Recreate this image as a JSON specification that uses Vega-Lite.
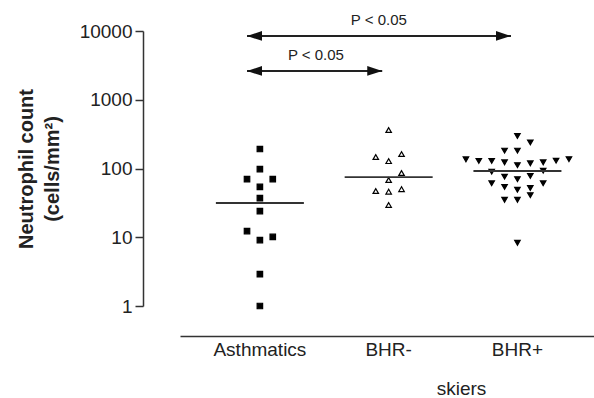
{
  "$schema": "https://vega.github.io/schema/vega-lite/v6.json",
  "width": 414,
  "height": 275,
  "autosize": {"type": "none"},
  "padding": {"left": 180, "top": 31, "right": 0, "bottom": 92},
  "background": "white",
  "config": {"view": {"stroke": null}, "font": "Liberation Sans"},
  "datasets": {
    "points": [
      {"group": "Asthmatics", "value": 192, "slot": 0},
      {"group": "Asthmatics", "value": 98, "slot": 0},
      {"group": "Asthmatics", "value": 70, "slot": -1},
      {"group": "Asthmatics", "value": 70, "slot": 1},
      {"group": "Asthmatics", "value": 54, "slot": 0},
      {"group": "Asthmatics", "value": 37, "slot": 0},
      {"group": "Asthmatics", "value": 24, "slot": 0},
      {"group": "Asthmatics", "value": 12.3, "slot": -1},
      {"group": "Asthmatics", "value": 10.1, "slot": 1},
      {"group": "Asthmatics", "value": 9.1, "slot": 0},
      {"group": "Asthmatics", "value": 2.9, "slot": 0},
      {"group": "Asthmatics", "value": 1, "slot": 0},
      {"group": "BHR-", "value": 363, "slot": 0},
      {"group": "BHR-", "value": 147, "slot": -1},
      {"group": "BHR-", "value": 162, "slot": 1},
      {"group": "BHR-", "value": 128, "slot": 0},
      {"group": "BHR-", "value": 86, "slot": 1},
      {"group": "BHR-", "value": 68, "slot": 0},
      {"group": "BHR-", "value": 47, "slot": -1},
      {"group": "BHR-", "value": 46, "slot": 0},
      {"group": "BHR-", "value": 50, "slot": 1},
      {"group": "BHR-", "value": 29.5, "slot": 0},
      {"group": "BHR+", "value": 297, "slot": 0},
      {"group": "BHR+", "value": 240, "slot": 1},
      {"group": "BHR+", "value": 182, "slot": -1},
      {"group": "BHR+", "value": 182, "slot": 0},
      {"group": "BHR+", "value": 136, "slot": -4},
      {"group": "BHR+", "value": 129, "slot": -3},
      {"group": "BHR+", "value": 129, "slot": -2},
      {"group": "BHR+", "value": 123, "slot": -1},
      {"group": "BHR+", "value": 112, "slot": 0},
      {"group": "BHR+", "value": 119, "slot": 1},
      {"group": "BHR+", "value": 123, "slot": 2},
      {"group": "BHR+", "value": 130, "slot": 3},
      {"group": "BHR+", "value": 137, "slot": 4},
      {"group": "BHR+", "value": 90, "slot": -2},
      {"group": "BHR+", "value": 93, "slot": 2},
      {"group": "BHR+", "value": 76, "slot": -1},
      {"group": "BHR+", "value": 70, "slot": 0},
      {"group": "BHR+", "value": 78, "slot": 1},
      {"group": "BHR+", "value": 61, "slot": -2},
      {"group": "BHR+", "value": 61, "slot": 2},
      {"group": "BHR+", "value": 54, "slot": -1},
      {"group": "BHR+", "value": 49, "slot": 0},
      {"group": "BHR+", "value": 52, "slot": 1},
      {"group": "BHR+", "value": 41, "slot": 1},
      {"group": "BHR+", "value": 35, "slot": -1},
      {"group": "BHR+", "value": 35, "slot": 0},
      {"group": "BHR+", "value": 8.3, "slot": 0}
    ],
    "means": [
      {"group": "Asthmatics", "value": 31.5},
      {"group": "BHR-", "value": 75},
      {"group": "BHR+", "value": 92}
    ],
    "arrows": [
      {"from": "Asthmatics", "to": "BHR+", "value": 8460, "label": "P < 0.05", "labelAt": "BHR-", "pos": "top"},
      {"from": "Asthmatics", "to": "BHR-", "value": 2620, "label": "P < 0.05", "labelAt": "Asthmatics", "pos": "low"}
    ]
  },
  "layer": [
    {
      "data": {"name": "points"},
      "mark": {"type": "point", "filled": true, "stroke": "black", "strokeWidth": 1.2, "opacity": 1},
      "encoding": {
        "x": {
          "field": "group", "type": "nominal", "title": "skiers",
          "scale": {"type": "band", "domain": ["Asthmatics", "BHR-", "BHR+"], "paddingInner": 0, "paddingOuter": 0.1075, "align": 0.56},
          "axis": {
            "offset": 30, "ticks": false, "tickSize": 0, "labelPadding": 4, "labelAngle": 0,
            "domainColor": "#333", "domainWidth": 1.5, "labelFontSize": 19, "labelColor": "#222",
            "titleFontSize": 19, "titleFontWeight": "normal", "titleColor": "#222",
            "titleX": 281, "titleY": 52, "titleBaseline": "middle", "titleAlign": "center", "grid": false
          }
        },
        "xOffset": {
          "field": "slot", "type": "ordinal",
          "scale": {"domain": [-4, -3, -2, -1, 0, 1, 2, 3, 4], "paddingOuter": 2.35, "paddingInner": 0}
        },
        "y": {
          "field": "value", "type": "quantitative",
          "title": ["Neutrophil count", "(cells/mm²)"],
          "scale": {"type": "log", "domain": [1, 10000]},
          "axis": {
            "values": [1, 10, 100, 1000, 10000], "format": "d", "offset": 37, "grid": false,
            "tickSize": 8, "labelPadding": 3, "domainColor": "#333", "domainWidth": 1.5,
            "tickColor": "#333", "tickWidth": 1.5, "labelFontSize": 19, "labelColor": "#222",
            "labelFlush": false, "labelOverlap": false,
            "titleFontSize": 20, "titleFontWeight": "bold", "titleColor": "#222",
            "titlePadding": 17, "titleLineHeight": 26
          }
        },
        "shape": {
          "field": "group", "type": "nominal", "legend": null,
          "scale": {"domain": ["Asthmatics", "BHR-", "BHR+"], "range": ["square", "triangle-up", "triangle-down"]}
        },
        "fill": {
          "field": "group", "type": "nominal", "legend": null,
          "scale": {"domain": ["Asthmatics", "BHR-", "BHR+"], "range": ["black", "white", "black"]}
        },
        "size": {
          "field": "group", "type": "nominal", "legend": null,
          "scale": {"domain": ["Asthmatics", "BHR-", "BHR+"], "range": [30, 30, 26]}
        }
      }
    },
    {
      "data": {"name": "means"},
      "mark": {"type": "tick", "size": 88, "thickness": 1.8, "color": "#333", "opacity": 1},
      "encoding": {
        "x": {"field": "group", "type": "nominal", "title": "skiers"},
        "y": {"field": "value", "type": "quantitative"}
      }
    },
    {
      "data": {"name": "arrows"},
      "mark": {"type": "rule", "color": "#222", "strokeWidth": 1.8},
      "encoding": {
        "x": {"field": "from", "type": "nominal", "bandPosition": 0.4, "title": "skiers"},
        "x2": {"field": "to", "bandPosition": 0.45},
        "y": {"field": "value", "type": "quantitative"}
      }
    },
    {
      "data": {"name": "arrows"},
      "mark": {"type": "point", "shape": "M0,0 L2,-0.65 L2,0.65 Z", "size": 225, "filled": true, "color": "#111", "opacity": 1},
      "encoding": {
        "x": {"field": "from", "type": "nominal", "bandPosition": 0.4, "title": "skiers"},
        "y": {"field": "value", "type": "quantitative"}
      }
    },
    {
      "data": {"name": "arrows"},
      "mark": {"type": "point", "shape": "M0,0 L-2,-0.65 L-2,0.65 Z", "size": 225, "filled": true, "color": "#111", "opacity": 1},
      "encoding": {
        "x": {"field": "to", "type": "nominal", "bandPosition": 0.45, "title": "skiers"},
        "y": {"field": "value", "type": "quantitative"}
      }
    },
    {
      "data": {"name": "arrows"},
      "transform": [{"filter": "datum.pos === 'top'"}],
      "mark": {"type": "text", "fontSize": 15, "color": "#222", "baseline": "middle", "dy": -16},
      "encoding": {
        "x": {"field": "labelAt", "type": "nominal", "bandPosition": 0.424, "title": "skiers"},
        "y": {"field": "value", "type": "quantitative"},
        "text": {"field": "label"}
      }
    },
    {
      "data": {"name": "arrows"},
      "transform": [{"filter": "datum.pos === 'low'"}],
      "mark": {"type": "text", "fontSize": 15, "color": "#222", "baseline": "middle", "dy": -16},
      "encoding": {
        "x": {"field": "labelAt", "type": "nominal", "bandPosition": 0.935, "title": "skiers"},
        "y": {"field": "value", "type": "quantitative"},
        "text": {"field": "label"}
      }
    }
  ]
}
